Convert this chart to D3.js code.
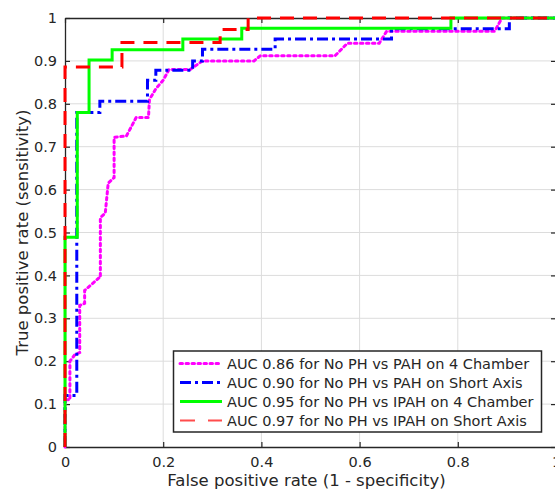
<!DOCTYPE html>
<html>
<head>
<meta charset="utf-8">
<script src="https://cdn.jsdelivr.net/npm/d3@7"></script>
<style>
  body { margin: 0; background: #fff; }
  svg { display: block; font-family: "DejaVu Sans", sans-serif; }
</style>
</head>
<body>
<svg id="roc" width="555" height="491"></svg>
<script>
// ROC curve vertices (false positive rate, true positive rate)
var pahFourFpr = [0, 0, 0.01, 0.01, 0.02, 0.03, 0.03, 0.04, 0.04, 0.07, 0.072, 0.072, 0.082, 0.088, 0.1, 0.1, 0.125, 0.145, 0.17, 0.172, 0.185, 0.2, 0.212, 0.255, 0.28, 0.385, 0.398, 0.55, 0.575, 0.64, 0.655, 0.875, 0.89, 1]
var pahFourTpr = [0, 0.11, 0.11, 0.2, 0.215, 0.22, 0.33, 0.335, 0.365, 0.395, 0.395, 0.535, 0.545, 0.615, 0.628, 0.722, 0.725, 0.768, 0.768, 0.81, 0.835, 0.855, 0.88, 0.88, 0.9, 0.9, 0.912, 0.912, 0.941, 0.941, 0.969, 0.969, 1, 1]

var pahShortFpr = [0, 0, 0.024, 0.024, 0.071, 0.071, 0.168, 0.168, 0.185, 0.185, 0.26, 0.26, 0.28, 0.28, 0.428, 0.428, 0.665, 0.665, 0.905, 0.905, 1]
var pahShortTpr = [0, 0.12, 0.12, 0.78, 0.78, 0.806, 0.806, 0.855, 0.855, 0.878, 0.878, 0.9, 0.9, 0.927, 0.927, 0.951, 0.951, 0.975, 0.975, 1, 1]

var ipahFourFpr = [0, 0, 0.025, 0.025, 0.049, 0.049, 0.096, 0.096, 0.24, 0.24, 0.36, 0.36, 0.786, 0.786, 1]
var ipahFourTpr = [0, 0.489, 0.489, 0.78, 0.78, 0.902, 0.902, 0.926, 0.926, 0.951, 0.951, 0.976, 0.976, 1, 1]

var ipahShortFpr = [0, 0, 0.116, 0.116, 0.316, 0.316, 0.373, 0.373, 1]
var ipahShortTpr = [0, 0.886, 0.886, 0.943, 0.943, 0.973, 0.973, 1, 1]

var labels = [
    'AUC 0.86 for No PH vs PAH on 4 Chamber',
    'AUC 0.90 for No PH vs PAH on Short Axis',
    'AUC 0.95 for No PH vs IPAH on 4 Chamber',
    'AUC 0.97 for No PH vs IPAH on Short Axis'
]
var colors = ['#ff00ff', '#0000ff', '#00ff00', '#ff0000']
var dashes = ['2.5,3.5', '11,4,3,4', null, '14,9']

var xTicks = [0, 0.2, 0.4, 0.6, 0.8, 1]
var yTicks = [0, 0.1, 0.2, 0.3, 0.4, 0.5, 0.6, 0.7, 0.8, 0.9, 1]

var series = [
    { fpr: pahFourFpr, tpr: pahFourTpr },
    { fpr: pahShortFpr, tpr: pahShortTpr },
    { fpr: ipahFourFpr, tpr: ipahFourTpr },
    { fpr: ipahShortFpr, tpr: ipahShortTpr }
]

var svg = d3.select('#roc')
var conf = { left: 65, top: 18, width: 491, height: 429 }
var axisColor = '#262626'

var x = d3.scaleLinear().domain([0, 1]).range([0, conf.width])
var y = d3.scaleLinear().domain([0, 1]).range([conf.height, 0])

var g = svg.append('g').attr('transform', 'translate(' + conf.left + ',' + conf.top + ')')

// grid
g.selectAll('.gx').data(xTicks.slice(1, -1)).enter().append('line')
    .attr('x1', d => x(d)).attr('x2', d => x(d))
    .attr('y1', 0).attr('y2', conf.height)
    .attr('stroke', '#dcdcdc').attr('stroke-width', 1)
g.selectAll('.gy').data(yTicks.slice(1, -1)).enter().append('line')
    .attr('x1', 0).attr('x2', conf.width)
    .attr('y1', d => y(d)).attr('y2', d => y(d))
    .attr('stroke', '#dcdcdc').attr('stroke-width', 1)

// axes, ticks pointing inward
function styleAxis(sel) {
    sel.select('.domain').attr('stroke', axisColor).attr('stroke-width', 1.3)
    sel.selectAll('.tick line').attr('stroke', axisColor).attr('stroke-width', 1.2)
    sel.selectAll('.tick text').attr('fill', axisColor).style('font-size', '14.5px')
        .style('font-family', '"DejaVu Sans", sans-serif')
}
g.append('g').attr('transform', 'translate(0,' + conf.height + ')')
    .call(d3.axisBottom(x).tickValues(xTicks).tickSize(-5).tickSizeOuter(0).tickPadding(10).tickFormat(d3.format('~g')))
    .call(styleAxis)
g.append('g')
    .call(d3.axisLeft(y).tickValues(yTicks).tickSize(-5).tickSizeOuter(0).tickPadding(8).tickFormat(d3.format('~g')))
    .call(styleAxis)
g.append('g')
    .call(d3.axisTop(x).tickValues(xTicks).tickSize(-5).tickSizeOuter(0).tickFormat(''))
    .call(styleAxis)
g.append('g').attr('transform', 'translate(' + conf.width + ',0)')
    .call(d3.axisRight(y).tickValues(yTicks).tickSize(-5).tickSizeOuter(0).tickFormat(''))
    .call(styleAxis)

// curves
var line = d3.line().x(d => x(d[0])).y(d => y(d[1]))
series.forEach(function (s, i) {
    var pts = s.fpr.map((f, k) => [f, s.tpr[k]])
    g.append('path')
        .attr('d', line(pts))
        .attr('fill', 'none')
        .attr('stroke', colors[i])
        .attr('stroke-width', 3)
        .attr('stroke-dasharray', dashes[i])
        .attr('stroke-linecap', i == 0 ? 'round' : 'butt')
})

// legend
var leg = svg.append('g')
leg.append('rect')
    .attr('x', 173.5).attr('y', 351).attr('width', 368).attr('height', 81)
    .attr('fill', '#fff').attr('stroke', axisColor).attr('stroke-width', 1.5)
var legDash = ['2.5,3.5', '11,4,3,4', null, '15,13']
labels.forEach(function (t, i) {
    var ly = 363.5 + i * 19
    leg.append('line')
        .attr('x1', 180).attr('x2', 222).attr('y1', ly).attr('y2', ly)
        .attr('stroke', colors[i]).attr('stroke-width', i == 3 ? 2 : 3)
        .attr('stroke-opacity', i == 3 ? 0.7 : 1)
        .attr('stroke-dasharray', legDash[i])
        .attr('stroke-linecap', i == 0 ? 'round' : 'butt')
    leg.append('text')
        .attr('x', 227).attr('y', ly).attr('dy', '0.35em')
        .attr('fill', axisColor).style('font-size', '14.5px')
        .text(t)
})

// axis titles
svg.append('text')
    .attr('x', conf.left + conf.width / 2 - 4).attr('y', 486)
    .attr('text-anchor', 'middle').attr('fill', axisColor).style('font-size', '16.5px')
    .text('False positive rate (1 - specificity)')
svg.append('text')
    .attr('transform', 'translate(28,' + (conf.top + conf.height / 2) + ') rotate(-90)')
    .attr('text-anchor', 'middle').attr('fill', axisColor).style('font-size', '16.5px')
    .text('True positive rate (sensitivity)')
</script>
</body>
</html>
